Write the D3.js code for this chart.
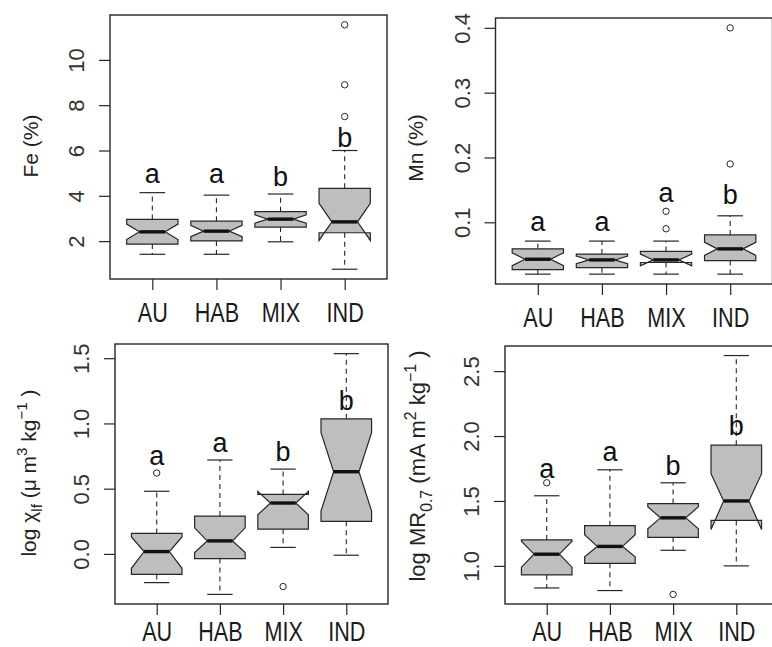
<!DOCTYPE html>
<html>
<head>
<meta charset="utf-8">
<script src="https://cdn.jsdelivr.net/npm/d3@7"></script>
<style>
  body { margin: 0; background: #fff; }
  svg { display: block; font-family: "Liberation Sans", Arial, sans-serif; }
</style>
</head>
<body>
<svg id="chart" width="772" height="647"></svg>
<script>
// Site groups shared by all four panels
const groups = ["AU", "HAB", "MIX", "IND"];

// Box statistics per group: [lower whisker, Q1, median, Q3, upper whisker]
const feStats = [[1.42, 1.87, 2.41, 2.96, 4.14], [1.42, 2.01, 2.44, 2.88, 4.03], [1.97, 2.62, 2.97, 3.30, 4.08], [0.76, 2.37, 2.85, 4.33, 6.0]];
const feNotch = [[2.07, 2.75], [2.20, 2.70], [2.79, 3.16], [2.03, 3.67]];
const feOut = [[], [], [], [7.5, 8.9, 11.55]];
const feLetters = ["a", "a", "b", "b"];
const feLetterY = [4.57, 4.57, 4.43, 6.16];
const feTicks = [2, 4, 6, 8, 10];

const mnStats = [[0.020, 0.027, 0.043, 0.059, 0.071], [0.020, 0.030, 0.042, 0.051, 0.071], [0.020, 0.038, 0.042, 0.055, 0.071], [0.020, 0.041, 0.059, 0.0805, 0.110]];
const mnNotch = [[0.033, 0.053], [0.036, 0.048], [0.033, 0.051], [0.049, 0.069]];
const mnOut = [[], [], [0.09, 0.117], [0.19, 0.40]];
const mnLetters = ["a", "a", "a", "b"];
const mnLetterY = [0.086, 0.086, 0.132, 0.129];
const mnTicks = [0.1, 0.2, 0.3, 0.4];

const chiStats = [[-0.22, -0.157, 0.018, 0.157, 0.48], [-0.31, -0.036, 0.10, 0.29, 0.72], [0.05, 0.19, 0.39, 0.456, 0.65], [-0.01, 0.25, 0.63, 1.035, 1.535]];
const chiNotch = [[-0.11, 0.13], [0.01, 0.20], [0.30, 0.48], [0.33, 0.93]];
const chiOut = [[0.62], [], [-0.25], []];
const chiLetters = ["a", "a", "b", "b"];
const chiLetterY = [0.68, 0.78, 0.71, 1.105];
const chiTicks = [0.0, 0.5, 1.0, 1.5];

const mrStats = [[0.83, 0.93, 1.09, 1.20, 1.54], [0.81, 1.02, 1.15, 1.31, 1.74], [1.12, 1.22, 1.37, 1.48, 1.64], [1.0, 1.35, 1.50, 1.93, 2.62]];
const mrNotch = [[0.99, 1.19], [1.07, 1.24], [1.285, 1.455], [1.28, 1.71]];
const mrOut = [[1.64], [], [0.78], []];
const mrLetters = ["a", "a", "b", "b"];
const mrLetterY = [1.68, 1.81, 1.70, 2.005];
const mrTicks = [1.0, 1.5, 2.0, 2.5];

// Axis titles as runs of text; sub/sup runs are shifted and shrunk
const feTitle = [{ t: "Fe (%)" }];
const mnTitle = [{ t: "Mn (%)" }];
const chiTitle = [{ t: "log χ" }, { t: "lf", sub: true }, { t: " (μ m" }, { t: "3", sup: true }, { t: " kg" }, { t: "−1", sup: true }, { t: " )" }];
const mrTitle = [{ t: "log MR" }, { t: "0.7", sub: true }, { t: " (mA m" }, { t: "2", sup: true }, { t: " kg" }, { t: "−1", sup: true }, { t: " )" }];

const panels = [
  { stats: feStats, notch: feNotch, out: feOut, letters: feLetters, letterY: feLetterY, ticks: feTicks, fmt: d3.format("d"), title: feTitle, titleSize: 21,
    box: { left: 110, top: 15, right: 387, bottom: 279 }, titlePos: [38, 146], labelGap: 43 },
  { stats: mnStats, notch: mnNotch, out: mnOut, letters: mnLetters, letterY: mnLetterY, ticks: mnTicks, fmt: d3.format(".1f"), title: mnTitle, titleSize: 21,
    box: { left: 495.5, top: 18, right: 772.5, bottom: 284 }, titlePos: [423, 148], labelGap: 43 },
  { stats: chiStats, notch: chiNotch, out: chiOut, letters: chiLetters, letterY: chiLetterY, ticks: chiTicks, fmt: d3.format(".1f"), title: chiTitle, titleSize: 21,
    box: { left: 115, top: 344, right: 388, bottom: 604 }, titlePos: [36, 473], labelGap: 37 },
  { stats: mrStats, notch: mrNotch, out: mrOut, letters: mrLetters, letterY: mrLetterY, ticks: mrTicks, fmt: d3.format(".1f"), title: mrTitle, titleSize: 22,
    box: { left: 505, top: 346, right: 778, bottom: 604 }, titlePos: [425, 466], labelGap: 37 }
];

const svg = d3.select("#chart");
const ink = "#262626";
const fillGray = "#bebebe";

panels.forEach(p => {
  const b = p.box;
  const g = svg.append("g");

  // x: groups at 1..4 inside an extended range (0.5..4.5 plus 4%)
  const x = d3.scalePoint().domain(groups).range([b.left, b.right]).padding(0.66);
  const wid = 0.4 * x.step();

  // y: data range (stats, outliers, notches) extended by 4% on each side
  const allVals = p.stats.flat().concat(p.out.flat(), p.notch.flat());
  const [lo, hi] = d3.extent(allVals);
  const pad = (hi - lo) * 0.04;
  const y = d3.scaleLinear().domain([lo - pad, hi + pad]).range([b.bottom, b.top]);

  // Boxes
  groups.forEach((grp, i) => {
    const cx = x(grp);
    const s = p.stats[i];
    const c = p.notch[i];
    const nf = 0.5;
    const kx = [-1, 1, 1, nf, 1, 1, -1, -1, -nf, -1];
    const vy = [s[1], s[1], c[0], s[2], c[1], s[3], s[3], c[1], s[2], c[0]];
    const pts = kx.map((k, j) => [cx + wid * k, y(vy[j])]);

    // whiskers
    g.append("line").attr("x1", cx).attr("x2", cx).attr("y1", y(s[3])).attr("y2", y(s[4]))
      .attr("stroke", ink).attr("stroke-width", 1.1).attr("stroke-dasharray", "5,4");
    g.append("line").attr("x1", cx).attr("x2", cx).attr("y1", y(s[1])).attr("y2", y(s[0]))
      .attr("stroke", ink).attr("stroke-width", 1.1).attr("stroke-dasharray", "5,4");
    // staples
    [s[0], s[4]].forEach(v => {
      g.append("line").attr("x1", cx - wid * 0.5).attr("x2", cx + wid * 0.5).attr("y1", y(v)).attr("y2", y(v))
        .attr("stroke", ink).attr("stroke-width", 1.2);
    });
    // notched box
    g.append("path").attr("d", d3.line()(pts) + "Z")
      .attr("fill", fillGray).attr("stroke", ink).attr("stroke-width", 1.2).attr("stroke-linejoin", "miter");
    // median
    g.append("line").attr("x1", cx - wid * nf).attr("x2", cx + wid * nf).attr("y1", y(s[2])).attr("y2", y(s[2]))
      .attr("stroke", "#111").attr("stroke-width", 3.4);
    // outliers
    p.out[i].forEach(v => {
      g.append("circle").attr("cx", cx).attr("cy", y(v)).attr("r", 3.2)
        .attr("fill", "none").attr("stroke", ink).attr("stroke-width", 1);
    });
    // group letters
    g.append("text").attr("x", cx).attr("y", y(p.letterY[i]))
      .attr("text-anchor", "middle").attr("font-size", 27).attr("fill", "#111")
      .text(p.letters[i]);
  });

  // Frame
  g.append("rect").attr("x", b.left).attr("y", b.top)
    .attr("width", b.right - b.left).attr("height", b.bottom - b.top)
    .attr("fill", "none").attr("stroke", ink).attr("stroke-width", 1.4);

  // y axis
  const ya = g.append("g").attr("transform", `translate(${b.left},0)`)
    .call(d3.axisLeft(y).tickValues(p.ticks).tickFormat(p.fmt).tickSize(11).tickSizeOuter(0));
  ya.select(".domain").remove();
  ya.selectAll(".tick line").attr("stroke", ink).attr("stroke-width", 1.2);
  ya.selectAll(".tick text")
    .attr("x", null).attr("dy", null).attr("y", null)
    .attr("transform", "translate(-26,0) rotate(-90)")
    .attr("text-anchor", "middle")
    .attr("font-size", 22).attr("font-family", "Liberation Sans, Arial, sans-serif")
    .attr("fill", "#333");

  // x axis
  const xa = g.append("g").attr("transform", `translate(0,${b.bottom})`)
    .call(d3.axisBottom(x).tickSize(11).tickSizeOuter(0));
  xa.select(".domain").remove();
  xa.selectAll(".tick line").attr("stroke", ink).attr("stroke-width", 1.2);
  xa.selectAll(".tick text")
    .attr("y", p.labelGap).attr("dy", null)
    .attr("transform", "scale(0.8,1)")
    .attr("font-size", 27).attr("font-family", "Liberation Sans, Arial, sans-serif")
    .attr("fill", "#1a1a1a");

  // y title
  const tt = g.append("text")
    .attr("transform", `translate(${p.titlePos[0]},${p.titlePos[1]}) rotate(-90)`)
    .attr("text-anchor", "middle").attr("font-size", p.titleSize).attr("fill", "#222");
  let shift = 0;
  p.title.forEach(run => {
    const target = run.sub ? p.titleSize * 0.3 : run.sup ? -p.titleSize * 0.42 : 0;
    const span = tt.append("tspan").text(run.t).attr("dy", target - shift);
    if (run.sub || run.sup) span.attr("font-size", p.titleSize * 0.72);
    shift = target;
  });
});
</script>
</body>
</html>
